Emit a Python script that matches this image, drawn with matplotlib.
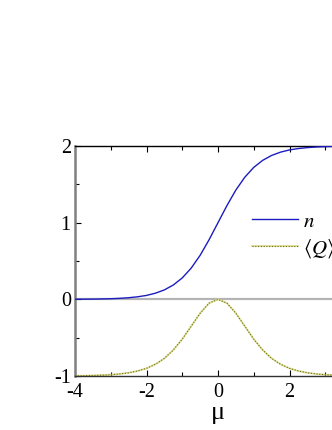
import numpy as np
import matplotlib
matplotlib.use('Agg')
import matplotlib.pyplot as plt
from matplotlib.ticker import MultipleLocator
from matplotlib.legend_handler import HandlerTuple

plt.rcParams['font.family'] = ['Liberation Serif', 'DejaVu Serif']
plt.rcParams['mathtext.fontset'] = 'stix'
plt.rcParams['axes.unicode_minus'] = False

# values, mu step 0.25
mu = [-4.0, -3.75, -3.5, -3.25, -3.0, -2.75, -2.5, -2.25, -2.0, -1.75, -1.5,
      -1.25, -1.0, -0.75, -0.5, -0.25, 0.0, 0.25, 0.5, 0.75, 1.0, 1.25, 1.5,
      1.75, 2.0, 2.25, 2.5, 2.75, 3.0, 3.25, 3.5, 3.75, 4.0]
n_vals = [0.001, 0.002, 0.003, 0.005, 0.008, 0.013, 0.021, 0.033, 0.051, 0.080,
          0.123, 0.187, 0.279, 0.407, 0.574, 0.777, 1.000, 1.223, 1.426, 1.593,
          1.721, 1.813, 1.877, 1.920, 1.949, 1.967, 1.979, 1.987, 1.992, 1.995,
          1.997, 1.998, 1.999]
q_vals = [-0.997, -0.996, -0.993, -0.989, -0.983, -0.973, -0.958, -0.935, -0.900,
          -0.847, -0.770, -0.661, -0.519, -0.351, -0.181, -0.050, 0.000, -0.050,
          -0.181, -0.351, -0.519, -0.661, -0.770, -0.847, -0.900, -0.935, -0.958,
          -0.973, -0.983, -0.989, -0.993, -0.996, -0.997]

W, H = 332, 430
fig = plt.figure(figsize=(W / 100, H / 100), dpi=100)
# axes runs past the right edge (reference is cropped)
left, right, top, bottom = 75, 361, 146, 376
ax = fig.add_axes([left / W, 1 - bottom / H, (right - left) / W, (bottom - top) / H])

ax.axhline(0, color='#b4b4b4', lw=1.6, zorder=1)
ln_n, = ax.plot(mu, n_vals, color='#1c1cc0', lw=1.0, zorder=3)
ln_qb, = ax.plot(mu, q_vals, color='#dcdc9a', lw=1.3, zorder=2)
ln_q, = ax.plot(mu, q_vals, color='#707000', lw=0.8, ls=(0, (1, 1.5)), zorder=3)

ax.set_xlim(-4, 4)
ax.set_ylim(-1, 2)
ax.xaxis.set_major_locator(MultipleLocator(2))
ax.xaxis.set_minor_locator(MultipleLocator(1))
ax.yaxis.set_major_locator(MultipleLocator(1))
ax.yaxis.set_minor_locator(MultipleLocator(0.5))
ax.tick_params(which='both', direction='in', top=True, right=False,
               labelsize=14.5)
ax.tick_params(axis='x', which='both', pad=5)
ax.tick_params(axis='y', which='both', pad=3)
ax.tick_params(which='major', length=4, width=0.8)
ax.tick_params(which='minor', length=3, width=0.8)

ax.spines['left'].set_color('#808080')
ax.spines['left'].set_linewidth(1.8)
ax.spines['bottom'].set_color('#303030')
ax.spines['bottom'].set_linewidth(1.0)
ax.spines['top'].set_linewidth(1.0)

ax.set_xlabel('μ', fontsize=19, labelpad=0)

leg = ax.legend([ln_n, (ln_qb, ln_q)], ['$n$', r'$\langle Q\rangle$'],
                handler_map={tuple: HandlerTuple(ndivide=1)},
                loc='upper left', bbox_to_anchor=(252 / W, 1 - 212 / H),
                bbox_transform=fig.transFigure, frameon=False, fontsize=15,
                handlelength=2.2, handletextpad=0.25, labelspacing=0.25,
                borderpad=0, borderaxespad=0)

fig.savefig('out.png', dpi=100)
